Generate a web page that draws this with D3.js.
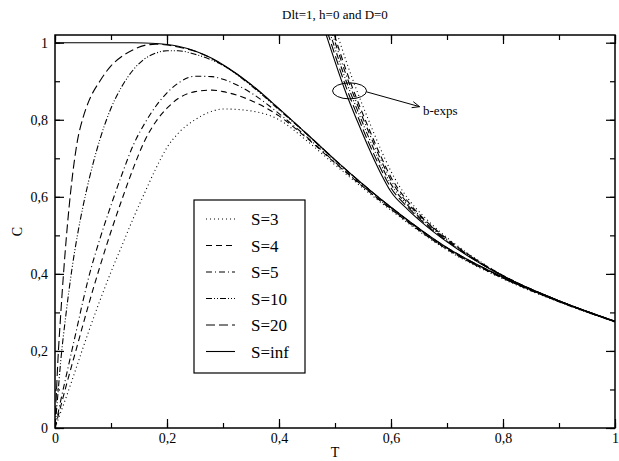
<!DOCTYPE html>
<html>
<head>
<meta charset="utf-8">
<script src="https://cdn.jsdelivr.net/npm/d3@7"></script>
<style>
  html, body { margin: 0; padding: 0; background: #fff; }
  svg { display: block; }
  text { font-family: "Liberation Serif", "DejaVu Serif", serif; fill: #000; }
</style>
</head>
<body>
<svg id="chart" width="619" height="461"></svg>
<script>
// Specific heat C versus temperature T for several spin values S
const titleText = "Dlt=1, h=0 and D=0";
const xLabel = "T";
const yLabel = "C";

const xTicks = [0, 0.2, 0.4, 0.6, 0.8, 1];
const xTickLabels = ["0", "0,2", "0,4", "0,6", "0,8", "1"];
const yTicks = [0, 0.2, 0.4, 0.6, 0.8, 1];
const yTickLabels = ["0", "0,2", "0,4", "0,6", "0,8", "1"];

const seriesNames = ["S=3", "S=4", "S=5", "S=10", "S=20", "S=inf"];

// temperature grid shared by the full curves
const tGrid = [0, 0.005, 0.01, 0.02, 0.03, 0.04, 0.05, 0.06, 0.08, 0.1, 0.12, 0.14, 0.16, 0.18,
               0.2, 0.22, 0.25, 0.28, 0.3, 0.35, 0.4, 0.45, 0.5, 0.6, 0.7, 0.8, 0.9, 1.0];

const cS3   = [0, 0.02, 0.04, 0.08, 0.122, 0.165, 0.208, 0.25, 0.33, 0.405, 0.475, 0.545, 0.61, 0.673,
               0.728, 0.765, 0.80, 0.822, 0.828, 0.823, 0.80, 0.745, 0.683, 0.565, 0.462, 0.387, 0.327, 0.275];
const cS4   = [0, 0.028, 0.055, 0.11, 0.163, 0.215, 0.268, 0.32, 0.418, 0.51, 0.595, 0.675, 0.745, 0.795,
               0.83, 0.855, 0.873, 0.877, 0.873, 0.85, 0.81, 0.752, 0.688, 0.568, 0.464, 0.389, 0.328, 0.276];
const cS5   = [0, 0.035, 0.07, 0.135, 0.2, 0.265, 0.33, 0.39, 0.49, 0.578, 0.66, 0.735, 0.79, 0.835,
               0.87, 0.895, 0.913, 0.912, 0.905, 0.87, 0.816, 0.755, 0.690, 0.569, 0.465, 0.389, 0.328, 0.276];
const cS10  = [0, 0.085, 0.17, 0.30, 0.41, 0.50, 0.575, 0.64, 0.748, 0.83, 0.888, 0.93, 0.958, 0.973,
               0.979, 0.979, 0.97, 0.955, 0.941, 0.889, 0.826, 0.762, 0.695, 0.572, 0.467, 0.390, 0.329, 0.276];
const cS20  = [0, 0.17, 0.29, 0.49, 0.64, 0.745, 0.805, 0.847, 0.90, 0.94, 0.965, 0.982, 0.993, 0.996,
               0.994, 0.989, 0.978, 0.959, 0.942, 0.891, 0.828, 0.763, 0.696, 0.573, 0.468, 0.391, 0.329, 0.276];
const cSinf = [1, 1, 1, 1, 1, 1, 1, 1, 1, 1, 1, 1, 0.9994, 0.998,
               0.9955, 0.9907, 0.9785, 0.9596, 0.943, 0.892, 0.829, 0.763, 0.696, 0.573, 0.468, 0.391, 0.329, 0.276];

// high-temperature expansions ("b-exps")
const tExp = [0.47, 0.48, 0.49, 0.50, 0.52, 0.54, 0.56, 0.58, 0.60, 0.63, 0.66, 0.70, 0.75, 0.80, 0.90, 1.00];
const eS3   = [1.169, 1.134, 1.087, 1.041, 0.952, 0.872, 0.799, 0.729, 0.666, 0.596, 0.547, 0.494, 0.441, 0.396, 0.330, 0.277];
const eS4   = [1.142, 1.107, 1.061, 1.015, 0.928, 0.850, 0.779, 0.711, 0.651, 0.588, 0.541, 0.491, 0.439, 0.396, 0.330, 0.277];
const eS5   = [1.128, 1.093, 1.048, 1.002, 0.916, 0.839, 0.769, 0.702, 0.643, 0.583, 0.539, 0.489, 0.438, 0.395, 0.330, 0.277];
const eS10  = [1.110, 1.075, 1.030, 0.985, 0.900, 0.825, 0.755, 0.690, 0.633, 0.578, 0.535, 0.487, 0.437, 0.395, 0.330, 0.277];
const eS20  = [1.092, 1.057, 1.012, 0.968, 0.884, 0.811, 0.741, 0.678, 0.623, 0.573, 0.531, 0.485, 0.436, 0.395, 0.330, 0.277];
const eSinf = [1.074, 1.039, 0.995, 0.951, 0.868, 0.796, 0.728, 0.666, 0.613, 0.567, 0.528, 0.483, 0.435, 0.394, 0.330, 0.277];

// annotation anchor (data units)
const noteText = "b-exps";
const noteCircle = [0.526, 0.875];
const noteArrowEnd = [0.651, 0.834];
const noteLabel = [0.657, 0.813];

const dashes = ["1,3", "6,4", "6,3,1,3", "6,2,1,2,1,2", "9,4", null];

const width = 619, height = 461;
const margin = { top: 35, right: 4, bottom: 33, left: 55 };
const iw = width - margin.left - margin.right;
const ih = height - margin.top - margin.bottom;

const x = d3.scaleLinear().domain([0, 1]).range([0, iw]);
const y = d3.scaleLinear().domain([0, 1.02]).range([ih, 0]);

const svg = d3.select("#chart");
const g = svg.append("g").attr("transform", `translate(${margin.left},${margin.top})`);

g.append("defs").append("clipPath").attr("id", "plotClip")
  .append("rect").attr("x", 0).attr("y", 0).attr("width", iw).attr("height", ih);

const line = d3.line().x(d => x(d[0])).y(d => y(d[1])).curve(d3.curveMonotoneX);

const mainSeries = [cS3, cS4, cS5, cS10, cS20, cSinf];
const expSeries = [eS3, eS4, eS5, eS10, eS20, eSinf];

const plot = g.append("g").attr("clip-path", "url(#plotClip)");

mainSeries.forEach((vals, i) => {
  plot.append("path")
    .datum(tGrid.map((t, k) => [t, vals[k]]))
    .attr("d", line)
    .attr("fill", "none")
    .attr("stroke", "#000")
    .attr("stroke-width", 1.1)
    .attr("stroke-dasharray", dashes[i]);
});

expSeries.forEach((vals, i) => {
  plot.append("path")
    .datum(tExp.map((t, k) => [t, vals[k]]))
    .attr("d", line)
    .attr("fill", "none")
    .attr("stroke", "#000")
    .attr("stroke-width", 1.1)
    .attr("stroke-dasharray", dashes[i]);
});

// axes: ticks drawn inward on all four sides
const xMinor = d3.range(0, 1.0001, 0.1);
const yMinor = d3.range(0, 1.0001, 0.1);

const bottomAxis = d3.axisBottom(x).tickValues(xTicks).tickSize(-9).tickFormat((d, i) => xTickLabels[i]).tickPadding(15);
const topAxis = d3.axisTop(x).tickValues(xTicks).tickSize(-9).tickFormat("");
const leftAxis = d3.axisLeft(y).tickValues(yTicks).tickSize(-9).tickFormat((d, i) => yTickLabels[i]).tickPadding(7);
const rightAxis = d3.axisRight(y).tickValues(yTicks).tickSize(-9).tickFormat("");

function styleAxis(sel) {
  sel.select(".domain").remove();
  sel.selectAll("line").attr("stroke", "#000").attr("stroke-width", 1.2);
  sel.selectAll("text").attr("font-size", 14).attr("fill", "#000");
}

const bottomG = g.append("g").attr("transform", `translate(0,${ih})`).call(bottomAxis).call(styleAxis);
bottomG.selectAll(".tick text").attr("dy", null);
g.append("g").call(topAxis).call(styleAxis);
g.append("g").call(leftAxis).call(styleAxis);
g.append("g").attr("transform", `translate(${iw},0)`).call(rightAxis).call(styleAxis);

// minor ticks
g.append("g").attr("transform", `translate(0,${ih})`)
  .call(d3.axisBottom(x).tickValues(xMinor).tickSize(-5).tickFormat("")).call(styleAxis);
g.append("g").call(d3.axisTop(x).tickValues(xMinor).tickSize(-5).tickFormat("")).call(styleAxis);
g.append("g").call(d3.axisLeft(y).tickValues(yMinor).tickSize(-5).tickFormat("")).call(styleAxis);
g.append("g").attr("transform", `translate(${iw},0)`)
  .call(d3.axisRight(y).tickValues(yMinor).tickSize(-5).tickFormat("")).call(styleAxis);

// frame
g.append("rect").attr("x", 0).attr("y", 0).attr("width", iw).attr("height", ih)
  .attr("fill", "none").attr("stroke", "#000").attr("stroke-width", 1.5);

// title and axis labels
svg.append("text").attr("x", margin.left + iw / 2).attr("y", 19)
  .attr("text-anchor", "middle").attr("font-size", 13).text(titleText);
svg.append("text").attr("x", margin.left + iw / 2).attr("y", 457)
  .attr("text-anchor", "middle").attr("font-size", 14).text(xLabel);
svg.append("text")
  .attr("transform", `translate(22,${margin.top + ih / 2}) rotate(-90)`)
  .attr("text-anchor", "middle").attr("font-size", 14).text(yLabel);

// legend
const lg = svg.append("g").attr("transform", "translate(194,200)");
lg.append("rect").attr("x", 0).attr("y", 0).attr("width", 111).attr("height", 173)
  .attr("fill", "#fff").attr("stroke", "#000").attr("stroke-width", 1.2);
seriesNames.forEach((name, i) => {
  const yy = 19 + i * 26.5;
  lg.append("line").attr("x1", 12).attr("x2", 41).attr("y1", yy).attr("y2", yy)
    .attr("stroke", "#000").attr("stroke-width", 1.1).attr("stroke-dasharray", dashes[i]);
  lg.append("text").attr("x", 57).attr("y", yy + 6).attr("font-size", 17).text(name);
});

// annotation: ellipse, arrow and label
const [cx, cy] = [x(noteCircle[0]), y(noteCircle[1])];
const ann = g.append("g");
ann.append("ellipse").attr("cx", cx).attr("cy", cy).attr("rx", 17).attr("ry", 8)
  .attr("fill", "none").attr("stroke", "#000").attr("stroke-width", 1);
const ax1 = cx + 17, ay1 = cy + 1;
const ax2 = x(noteArrowEnd[0]), ay2 = y(noteArrowEnd[1]);
ann.append("line").attr("x1", ax1).attr("y1", ay1).attr("x2", ax2).attr("y2", ay2)
  .attr("stroke", "#000").attr("stroke-width", 1);
const ang = Math.atan2(ay2 - ay1, ax2 - ax1);
const headLen = 8, headSpread = 0.4;
ann.append("path")
  .attr("d", `M${ax2 - headLen * Math.cos(ang - headSpread)},${ay2 - headLen * Math.sin(ang - headSpread)}
              L${ax2},${ay2}
              L${ax2 - headLen * Math.cos(ang + headSpread)},${ay2 - headLen * Math.sin(ang + headSpread)}`)
  .attr("fill", "none").attr("stroke", "#000").attr("stroke-width", 1);
ann.append("text").attr("x", x(noteLabel[0])).attr("y", y(noteLabel[1]))
  .attr("font-size", 13).text(noteText);
</script>
</body>
</html>
